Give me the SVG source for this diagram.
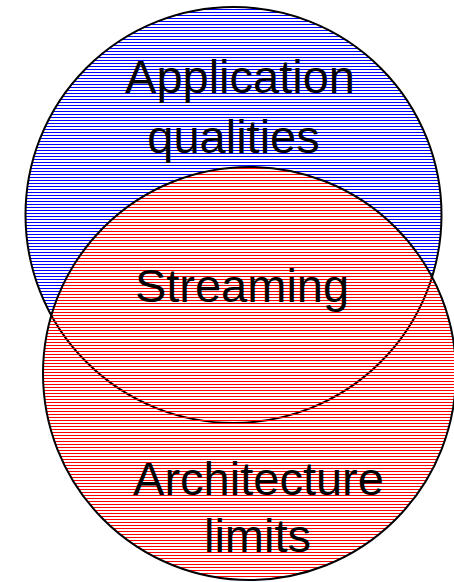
<svg xmlns="http://www.w3.org/2000/svg" width="454" height="582" viewBox="0 0 454 582">
<defs>
<pattern id="hb" patternUnits="userSpaceOnUse" x="0" y="0" width="10" height="3"><rect x="0" y="0" width="10" height="1" fill="#0000ff"/></pattern>
<pattern id="hr" patternUnits="userSpaceOnUse" x="0" y="0" width="10" height="3"><rect x="0" y="0" width="10" height="1" fill="#ff0000"/></pattern>
</defs>
<style>
.c{stroke:#000;stroke-width:2}
.t{font-family:"Liberation Sans",Arial,sans-serif;font-size:47px;fill:#000;text-anchor:middle}
</style>
<g id="application-qualities">
<circle class="c" cx="233.5" cy="215" r="208" fill="url(#hb)"/>
</g>
<g id="architecture-limits">
<circle class="c" cx="249.5" cy="373.5" r="206.5" fill="url(#hr)"/>
</g>
<g id="connectors"></g>
<g id="labels">
<text class="t" x="240" y="93">Application</text>
<text class="t" x="233.5" y="153">qualities</text>
<text class="t" x="242" y="302">Streaming</text>
<text class="t" x="258.5" y="495">Architecture</text>
<text class="t" x="257.5" y="552">limits</text>
</g>
</svg>
